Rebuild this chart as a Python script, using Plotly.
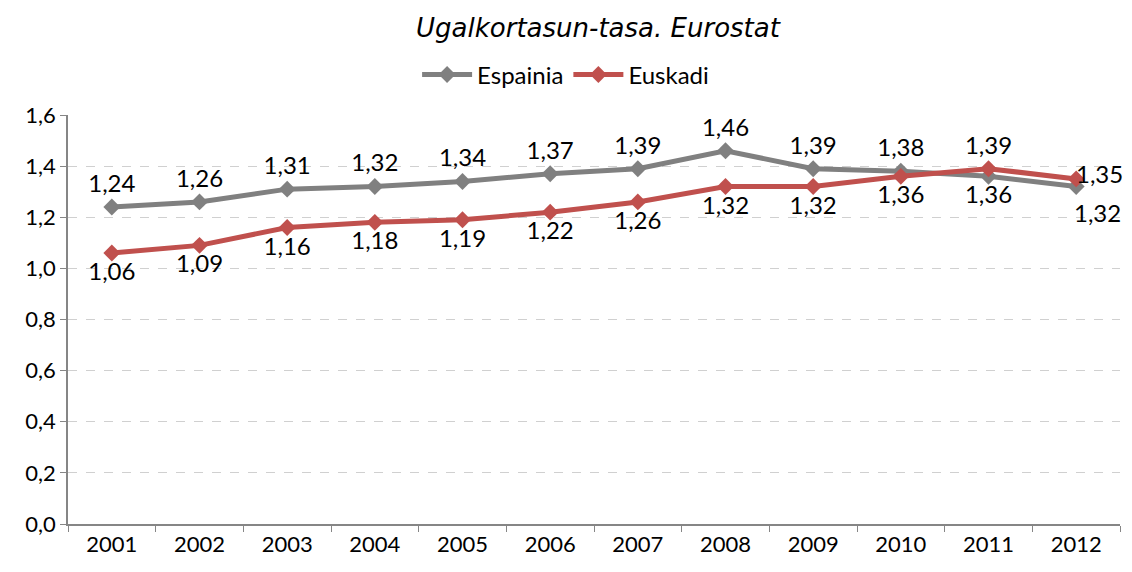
import plotly.graph_objects as go

years = ["2001", "2002", "2003", "2004", "2005", "2006", "2007", "2008", "2009", "2010", "2011", "2012"]
espainia = [1.24, 1.26, 1.31, 1.32, 1.34, 1.37, 1.39, 1.46, 1.39, 1.38, 1.36, 1.32]
euskadi = [1.06, 1.09, 1.16, 1.18, 1.19, 1.22, 1.26, 1.32, 1.32, 1.36, 1.39, 1.35]

esp_pos = ["top center"] * 10 + ["bottom center", "bottom center"]
eus_pos = ["bottom center"] * 10 + ["top center", "middle right"]

FONT = "Lato, Carlito, Calibri, sans-serif"
TFONT = "DejaVu Sans, Verdana, sans-serif"


def fmt(v):
    return f"{v:.2f}".replace(".", ",")


esp_text = [fmt(v) for v in espainia]
eus_text = [fmt(v) for v in euskadi]
# last-year labels are placed as annotations (to the right of the points)
esp_text[-1] = ""
eus_text[-1] = ""
last = len(years) - 1  # category index of the last year

fig = go.Figure()
fig.add_trace(go.Scatter(
    x=years, y=espainia, name="Espainia", mode="lines+markers+text",
    line=dict(color="#808080", width=5),
    marker=dict(symbol="diamond", size=13, color="#808080"),
    text=esp_text, textposition=esp_pos, cliponaxis=False,
    textfont=dict(family=FONT, size=24, color="#000000"),
))
fig.add_trace(go.Scatter(
    x=years, y=euskadi, name="Euskadi", mode="lines+markers+text",
    line=dict(color="#C0504D", width=5),
    marker=dict(symbol="diamond", size=13, color="#C0504D"),
    text=eus_text, textposition=eus_pos, cliponaxis=False,
    textfont=dict(family=FONT, size=24, color="#000000"),
))

fig.add_annotation(x=last, y=euskadi[-1], text=fmt(euskadi[-1]), showarrow=False,
                   xanchor="left", yanchor="middle", xshift=-2, yshift=5,
                   font=dict(family=FONT, size=24, color="#000000"))
fig.add_annotation(x=last, y=espainia[-1], text=fmt(espainia[-1]), showarrow=False,
                   xanchor="left", yanchor="middle", xshift=-4, yshift=-26,
                   font=dict(family=FONT, size=24, color="#000000"))

# page has an 8px body margin: figure is 1116x556 placed at (8,8)
fig.update_layout(
    width=1116, height=556,
    paper_bgcolor="white", plot_bgcolor="white",
    separators=", ",
    font=dict(family=FONT, size=22, color="#000000"),
    title=dict(text="<i>Ugalkortasun-tasa. Eurostat</i>", x=590 / 1116, xanchor="center",
               y=1 - 20 / 556, yanchor="middle", font=dict(family=TFONT, size=26)),
    legend=dict(orientation="h", x=0.473, xanchor="center", y=1.098,
                yanchor="middle", font=dict(family=FONT, size=24), traceorder="normal",
                itemwidth=50),
    margin=dict(l=60, r=4, t=107, b=40, autoexpand=False),
    xaxis=dict(type="category", range=[-0.5, 11.5], showline=True, linecolor="#868686",
               linewidth=1.5, ticks="outside", tickson="boundaries", ticklen=6,
               tickcolor="#868686", showgrid=False, tickfont=dict(size=22)),
    yaxis=dict(range=[0, 1.6], dtick=0.2, tickformat=".1f", showline=True,
               linecolor="#868686", linewidth=1.5, ticks="outside", ticklen=6,
               tickcolor="#868686", showgrid=True, gridcolor="#D0D0D0", griddash="dash",
               gridwidth=1, zeroline=False, tickfont=dict(size=22)),
)
fig.write_html("out.html")
